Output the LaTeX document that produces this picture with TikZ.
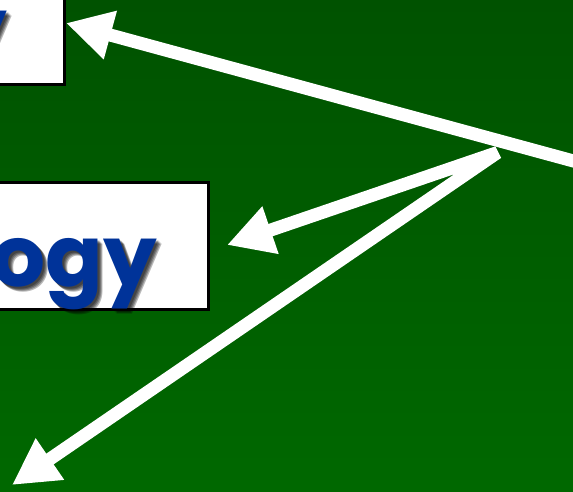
\documentclass[tikz,border=0pt]{standalone}
\usepackage{fontspec}
\newfontfamily\titlefont{Poppins}
\usetikzlibrary{arrows.meta}
\definecolor{bgtop}{RGB}{0,82,0}
\definecolor{bgbot}{RGB}{0,104,0}
\definecolor{txtblue}{RGB}{0,51,153}
\tikzset{
  box/.style={draw=black, line width=3pt, fill=white, inner sep=0pt, outer sep=0pt},
  bigtip/.tip={Triangle[length=46pt,width=47pt]},
  arr/.style={draw=white, line width=13pt, line join=bevel},
  word/.style={font=\titlefont\bfseries\fontsize{85}{100}\selectfont, text=txtblue, inner sep=0pt, anchor=base east},
  wordshadow/.style={word, text=black, opacity=0.28}
}
\begin{document}
\begin{tikzpicture}[x=1pt,y=-1pt]
\useasboundingbox (0pt,0pt) rectangle (573pt,-491pt);
\clip (0pt,0pt) rectangle (573pt,-491pt);
\shade[top color=bgtop, bottom color=bgbot] (0pt,0pt) rectangle (573pt,-491pt);
% boxes
\node[box, anchor=south east, minimum width=120pt, minimum height=120pt] (topbox) at (64.7,84.7) {};
\node[box, anchor=south east, minimum width=260pt, minimum height=127pt] (midbox) at (208.3,309) {};
% texts with shadows
\foreach \d in {2,3,4,5} {
  \node[wordshadow] at (7+\d,58+\d) {y};
  \node[wordshadow] at (157+\d,286+\d) {logy};
}
\node[word] (topword) at (7,58) {y};
\node[word] (midword) at (157,286) {logy};
% arrows
\coordinate (src) at (590,165.5);
\coordinate (tip1) at (66,23);
\coordinate (hub) at (497.5,152.5);
\coordinate (tip2) at (227,245);
\coordinate (tip3) at (12,485);
\draw[arr, -{bigtip}] (src) -- (tip1);
\draw[arr, {bigtip}-{bigtip}] (tip2) -- (hub) -- (tip3);
\end{tikzpicture}
\end{document}
